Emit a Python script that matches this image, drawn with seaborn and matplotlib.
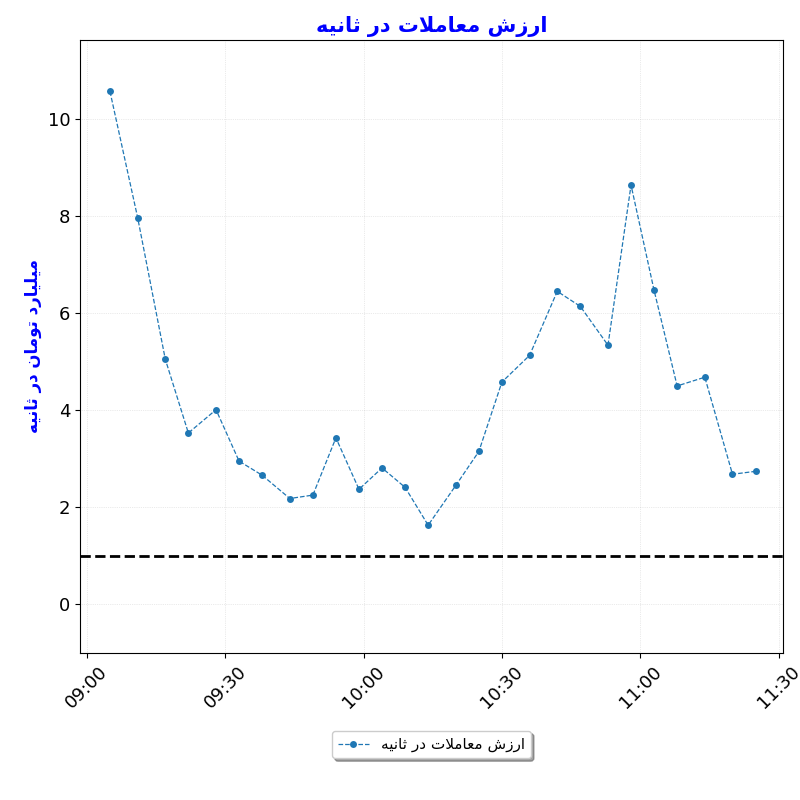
import matplotlib
matplotlib.use("Agg")
import matplotlib.pyplot as plt
import matplotlib.dates as mdates
import seaborn as sns
import pandas as pd

times = ["09:05","09:11","09:17","09:22","09:28","09:33","09:38","09:44","09:49","09:54",
         "09:59","10:04","10:09","10:14","10:20","10:25","10:30","10:36","10:42","10:47",
         "10:53","10:58","11:03","11:08","11:14","11:20","11:25"]
values = [10.57,7.97,5.05,3.53,4.01,2.95,2.66,2.18,2.25,3.43,2.37,2.81,2.41,1.63,2.45,3.15,
          4.58,5.13,6.45,6.14,5.34,8.64,6.47,4.50,4.68,2.68,2.74]
title_text = "ارزش معاملات در ثانیه"
ylabel_text = "میلیارد تومان در ثانیه"
threshold = 1.0

FORMS = {
 'ا':('\uFE8D','\uFE8E',None,None),'ر':('\uFEAD','\uFEAE',None,None),'ز':('\uFEAF','\uFEB0',None,None),
 'د':('\uFEA9','\uFEAA',None,None),'و':('\uFEED','\uFEEE',None,None),
 'ش':('\uFEB5','\uFEB6','\uFEB7','\uFEB8'),'م':('\uFEE1','\uFEE2','\uFEE3','\uFEE4'),
 'ع':('\uFEC9','\uFECA','\uFECB','\uFECC'),'ل':('\uFEDD','\uFEDE','\uFEDF','\uFEE0'),
 'ت':('\uFE95','\uFE96','\uFE97','\uFE98'),'ث':('\uFE99','\uFE9A','\uFE9B','\uFE9C'),
 'ن':('\uFEE5','\uFEE6','\uFEE7','\uFEE8'),'ی':('\uFBFC','\uFBFD','\uFBFE','\uFBFF'),
 'ه':('\uFEE9','\uFEEA','\uFEEB','\uFEEC'),
}
def shape(s):
    out = []
    chars = list(s)
    i = 0
    def joins_left(c):
        return c in FORMS and FORMS[c][2] is not None
    while i < len(chars):
        c = chars[i]
        if c not in FORMS:
            out.append(c); i += 1; continue
        prev = chars[i-1] if i > 0 else ' '
        pj = joins_left(prev)
        if c == 'ل' and i+1 < len(chars) and chars[i+1] == 'ا':
            out.append('\uFEFC' if pj else '\uFEFB'); i += 2; continue
        nxt = chars[i+1] if i+1 < len(chars) else ' '
        nj = joins_left(c) and nxt in FORMS
        iso, fin, ini, med = FORMS[c]
        if pj and nj: g = med
        elif pj: g = fin
        elif nj: g = ini
        else: g = iso
        out.append(g); i += 1
    return ''.join(out)[::-1]

df = pd.DataFrame({"time": pd.to_datetime(["2024-01-01 " + t for t in times]), "value": values})

plt.rcParams['font.family'] = ['DejaVu Sans']
fig, ax = plt.subplots(figsize=(8, 8), dpi=100)
fig.subplots_adjust(left=0.1, right=0.979, top=0.95, bottom=0.184)
sns.lineplot(data=df, x="time", y="value", ax=ax, color="#1f77b4", marker="o",
             linestyle="--", linewidth=0.9, markersize=5, markeredgewidth=0,
             label=shape(title_text))
ax.axhline(threshold, color="black", linestyle="--", linewidth=2)
ax.set_xlim(pd.Timestamp("2024-01-01 08:58:30"), pd.Timestamp("2024-01-01 11:31:00"))
ax.set_ylim(-1.0, 11.63)
ax.xaxis.set_major_locator(mdates.MinuteLocator(byminute=[0, 30]))
ax.xaxis.set_major_formatter(mdates.DateFormatter("%H:%M"))
ax.tick_params(axis='x', labelrotation=45, labelsize=13)
ax.tick_params(axis='y', labelsize=13)
ax.grid(True, linestyle=":", linewidth=0.5, alpha=0.5)
ax.set_xlabel("")
ax.set_title(shape(title_text), color="blue", fontsize=15, fontweight="bold")
ax.set_ylabel(shape(ylabel_text), color="blue", fontsize=12, fontweight="bold")
ax.legend(loc="upper center", bbox_to_anchor=(0.5, -0.115), shadow=True, fontsize=11)
fig.savefig("out.png")
